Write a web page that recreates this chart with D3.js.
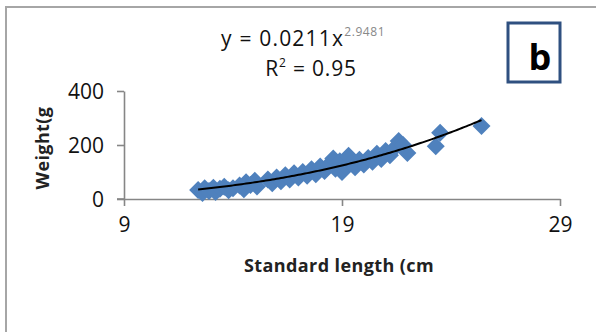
<!DOCTYPE html>
<html><head><meta charset="utf-8">
<script src="https://cdn.jsdelivr.net/npm/d3@7/dist/d3.min.js"></script>
<style>body{margin:0;background:#fff}svg{display:block}</style>
</head><body>
<svg id="c" width="596" height="332"></svg>
<script>
const lengths = [12.4,12.6,12.7,12.9,13.1,13.2,13.4,13.6,13.8,14.0,
  14.3,14.5,14.6,14.8,15.0,15.1,
  15.6,15.8,16.0,16.2,16.4,16.6,16.8,17.0,
  17.2,17.4,17.6,17.8,18.0,18.2,18.4,18.6,18.7,18.9,19.0,19.1,19.3,19.4,19.6,19.8,
  20.0,20.2,20.4,20.6,20.8,21.0,21.2,21.4,21.6,21.8,22.0,23.3,23.5,25.4];
const weights = [33,22,40,30,42,26,38,45,32,40,
  50,36,62,52,68,46,
  72,58,80,66,88,72,95,80,
  100,86,110,92,120,104,128,150,112,140,100,122,160,132,118,145,
  128,152,138,168,148,178,162,188,215,200,170,195,245,270];
const xTicks = [9,19,29];
const yTicks = [0,200,400];
const fitA = 0.0211, fitB = 2.9481;
const eqMain = "y = 0.0211x", eqExp = "2.9481", r2Text = "0.95";
const xTitle = "Standard length (cm", yTitle = "Weight(g", panel = "b";

const svg = d3.select("#c");
const x = d3.scaleLinear().domain([9,29]).range([124,560]);
const y = d3.scaleLinear().domain([0,400]).range([199,91]);
const font = "'Open Sans', Lato, sans-serif";

// outer border (left & top)
svg.append("path").attr("d","M6,332 V7 H596").attr("fill","none").attr("stroke","#a6a6a6").attr("stroke-width",2);

// axes
const gx = svg.append("g").attr("transform","translate(0,199)")
  .call(d3.axisBottom(x).tickValues(xTicks).tickSize(7).tickSizeOuter(0).tickPadding(11));
const gy = svg.append("g").attr("transform","translate(124,0)")
  .call(d3.axisLeft(y).tickValues(yTicks).tickSize(7).tickSizeOuter(0).tickPadding(13));
[gx,gy].forEach(g=>{
  g.select(".domain").attr("stroke","#868686").attr("stroke-width",1.6);
  g.selectAll(".tick line").attr("stroke","#868686").attr("stroke-width",1.6);
  g.selectAll(".tick text").attr("font-family",font).attr("font-size",21).attr("fill","#111");
});
gy.selectAll(".tick text").attr("dy","0.35em");
svg.append("line").attr("x1",117).attr("x2",124).attr("y1",199).attr("y2",199).attr("stroke","#868686").attr("stroke-width",1.6);

// points
const pts = lengths.map((l,i)=>({l, w: weights[i]}));
const r = 9;
svg.append("g").selectAll("path").data(pts).join("path")
  .attr("d", d=>{const cx=x(d.l), cy=y(d.w); return `M${cx},${cy-r}L${cx+r},${cy}L${cx},${cy+r}L${cx-r},${cy}Z`;})
  .attr("fill","#4F81BD");

// trend line
const xs = d3.range(12.4, 25.41, 0.1);
svg.append("path").datum(xs)
  .attr("d", d3.line().x(v=>x(v)).y(v=>y(fitA*Math.pow(v,fitB))))
  .attr("fill","none").attr("stroke","#000").attr("stroke-width",2);

// equation
const eq = svg.append("text").attr("x",221).attr("y",46).attr("font-family",font).attr("font-size",21).attr("fill","#111");
eq.append("tspan").attr("letter-spacing",1.2).text(eqMain);
eq.append("tspan").attr("font-size",12).attr("dy",-10).attr("fill","#888").attr("letter-spacing",0.6).text(eqExp);
const r2 = svg.append("text").attr("x",311).attr("y",76).attr("text-anchor","middle").attr("font-family",font).attr("font-size",21).attr("fill","#111").attr("letter-spacing",0.8);
r2.append("tspan").text("R");
r2.append("tspan").attr("font-size",12).attr("dy",-9).text("2");
r2.append("tspan").attr("dy",9).text(" = " + r2Text);

// panel box
svg.append("rect").attr("x",508).attr("y",23).attr("width",52).attr("height",59).attr("fill","#fff").attr("stroke","#2f5080").attr("stroke-width",3);
svg.append("text").attr("x",540).attr("y",70).attr("text-anchor","middle").attr("font-family",font).attr("font-weight","bold").attr("font-size",36).attr("fill","#000").text(panel);

// axis titles
svg.append("text").attr("x",339).attr("y",272).attr("text-anchor","middle").attr("font-family",font).attr("font-weight","bold").attr("font-size",18).attr("fill","#222").attr("letter-spacing",0.4).text(xTitle);
svg.append("text").attr("transform","translate(49,148) rotate(-90)").attr("text-anchor","middle").attr("font-family",font).attr("font-weight","bold").attr("font-size",18).attr("fill","#222").attr("letter-spacing",0.4).text(yTitle);
</script>
</body></html>
